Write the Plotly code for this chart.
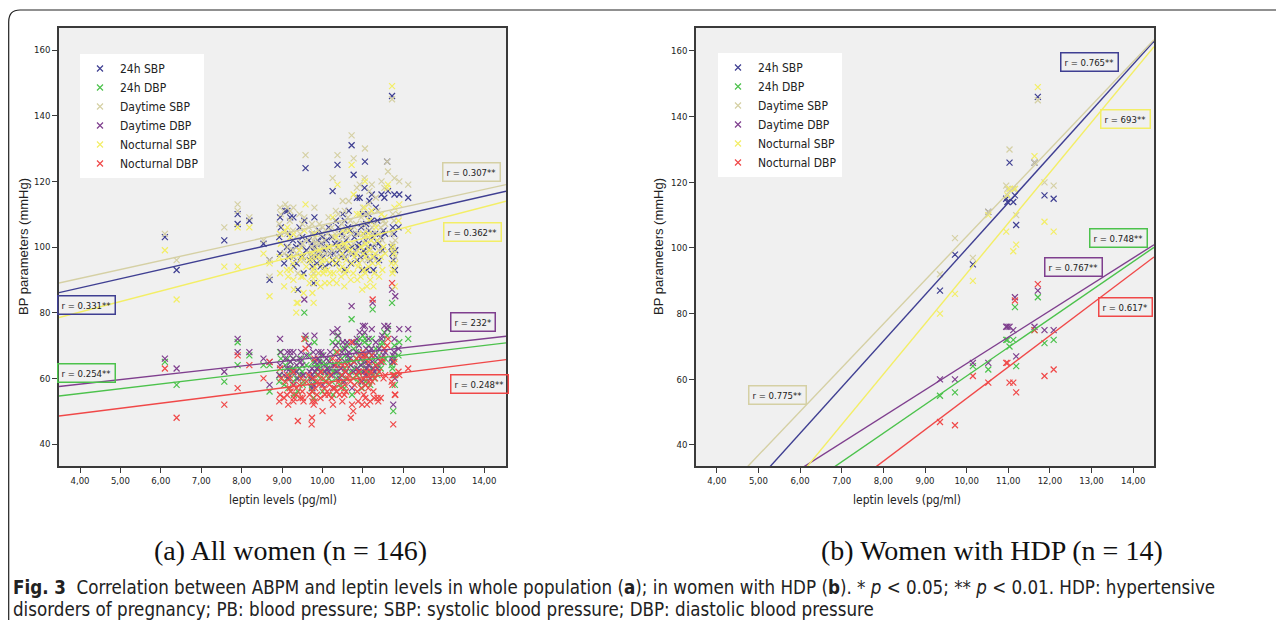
import plotly.graph_objects as go

# page body has an 8px margin: the figure is sized to fill the rest of the window
W, H = 1268, 612
OFF = 8

series_names = ["24h SBP", "24h DBP", "Daytime SBP", "Daytime DBP", "Nocturnal SBP", "Nocturnal DBP"]
series_colors = ["#3f3f92", "#4cc24c", "#d5d0a4", "#7f3f8e", "#f3ee66", "#f04848"]

# ---------- Panel (a): all women (n = 146) ----------
leptin_a = [6.10, 6.39, 7.57, 7.90, 7.90, 8.19, 8.54, 8.69, 8.69, 8.95,
            8.95, 8.93, 8.97, 9.05, 9.08, 9.13, 9.12, 9.15, 9.20, 9.21,
            9.19, 9.28, 9.28, 9.29, 9.27, 9.35, 9.36, 9.39, 9.43, 9.45,
            9.47, 9.51, 9.50, 9.53, 9.58, 9.55, 9.60, 9.66, 9.68, 9.74,
            9.73, 9.75, 9.77, 9.74, 9.80, 9.78, 9.82, 9.81, 9.88, 9.86,
            9.90, 9.92, 9.95, 9.97, 10.02, 10.00, 10.04, 10.06, 10.10, 10.12,
            10.17, 10.15, 10.19, 10.25, 10.27, 10.23, 10.26, 10.33, 10.31, 10.35,
            10.37, 10.40, 10.42, 10.39, 10.48, 10.46, 10.50, 10.49, 10.56, 10.55,
            10.58, 10.54, 10.63, 10.61, 10.65, 10.70, 10.72, 10.69, 10.73, 10.77,
            10.79, 10.76, 10.85, 10.86, 10.83, 10.88, 10.92, 10.94, 10.96, 10.90,
            11.00, 11.02, 11.01, 10.98, 11.04, 11.05, 11.07, 11.10, 11.08, 11.06,
            11.14, 11.16, 11.13, 11.18, 11.15, 11.22, 11.24, 11.26, 11.21, 11.23,
            11.30, 11.28, 11.32, 11.38, 11.36, 11.40, 11.46, 11.44, 11.48, 11.53,
            11.51, 11.55, 11.62, 11.60, 11.72, 11.74, 11.71, 11.75, 11.73, 11.78,
            11.80, 11.77, 11.79, 11.90, 11.88, 12.12]
sbp24_a = [103, 93, 102, 110, 107, 108, 101, 90, 96, 109,
           98, 103, 106, 95, 111, 111, 100, 97, 109, 99,
           104, 109, 97, 94, 102, 100, 95, 87, 106, 101,
           97, 97, 103, 92, 124, 108, 99, 102, 96, 101,
           97, 94, 99, 104, 109, 89, 97, 100, 102, 95,
           98, 105, 94, 101, 97, 103, 99, 94, 102, 100,
           95, 106, 98, 117, 98, 103, 96, 108, 101, 95,
           125, 101, 99, 106, 104, 97, 110, 100, 97, 108,
           102, 93, 106, 99, 111, 95, 131, 105, 100, 122,
           103, 98, 115, 96, 104, 100, 115, 97, 106, 101,
           110, 99, 104, 93, 118, 126, 102, 93, 107, 98,
           110, 114, 100, 96, 105, 116, 100, 93, 108, 103,
           104, 97, 112, 101, 108, 96, 116, 103, 99, 115,
           105, 104, 117, 126, 146, 106, 100, 96, 98, 116,
           99, 104, 93, 116, 106, 115]
dbp24_a = [65, 58, 59, 71, 64, 67, 64, 56, 64, 68,
           61, 59, 66, 58, 64, 66, 60, 57, 65, 62,
           61, 66, 59, 55, 63, 60, 62, 56, 63, 61,
           66, 58, 62, 59, 72, 80, 64, 67, 60, 58,
           57, 56, 65, 60, 71, 54, 62, 59, 64, 61,
           66, 63, 60, 67, 65, 56, 62, 59, 64, 61,
           63, 60, 66, 71, 62, 59, 55, 68, 62, 60,
           73, 64, 58, 71, 66, 61, 69, 59, 67, 63,
           60, 57, 65, 70, 66, 62, 78, 64, 55, 69,
           63, 60, 71, 61, 66, 59, 72, 64, 62, 68,
           73, 60, 65, 57, 71, 72, 63, 61, 67, 59,
           70, 66, 62, 58, 64, 72, 81, 61, 67, 63,
           65, 60, 69, 64, 61, 67, 70, 63, 71, 74,
           65, 66, 75, 73, 83, 65, 64, 50, 63, 70,
           61, 66, 58, 71, 67, 72]
sbpday_a = [104, 96, 106, 113, 111, 109, 102, 91, 96, 112,
            104, 107, 110, 98, 113, 112, 104, 100, 111, 103,
            108, 112, 99, 97, 105, 103, 98, 92, 110, 104,
            100, 101, 107, 96, 128, 109, 102, 106, 98, 104,
            100, 97, 102, 107, 112, 92, 101, 103, 105, 99,
            101, 107, 97, 104, 100, 106, 102, 98, 105, 104,
            98, 109, 100, 121, 103, 106, 99, 111, 104, 97,
            128, 104, 102, 110, 107, 100, 114, 103, 100, 111,
            105, 97, 109, 103, 114, 98, 134, 108, 104, 127,
            106, 101, 118, 99, 107, 104, 119, 100, 109, 104,
            112, 103, 107, 96, 121, 130, 105, 96, 110, 101,
            113, 117, 103, 99, 108, 119, 104, 97, 111, 106,
            107, 101, 115, 104, 111, 99, 120, 106, 102, 118,
            108, 107, 123, 126, 145, 110, 104, 99, 101, 121,
            102, 108, 97, 120, 110, 119]
dbpday_a = [66, 63, 62, 72, 68, 68, 66, 58, 65, 72,
            64, 61, 68, 61, 66, 68, 63, 60, 68, 65,
            63, 68, 62, 58, 66, 62, 64, 60, 66, 65,
            68, 61, 64, 61, 73, 84, 67, 70, 62, 61,
            60, 57, 68, 63, 73, 58, 65, 62, 66, 63,
            68, 65, 62, 68, 67, 58, 64, 62, 66, 63,
            65, 62, 68, 74, 64, 61, 57, 70, 64, 62,
            75, 66, 60, 73, 68, 63, 71, 61, 69, 65,
            62, 59, 67, 71, 68, 64, 82, 66, 57, 71,
            65, 62, 72, 63, 68, 62, 74, 66, 64, 70,
            76, 62, 67, 59, 74, 76, 65, 63, 69, 61,
            72, 68, 64, 60, 66, 75, 83, 63, 69, 65,
            67, 62, 71, 66, 63, 69, 72, 65, 73, 76,
            67, 68, 76, 75, 87, 67, 66, 52, 65, 72,
            85, 68, 60, 75, 69, 75]
sbpnight_a = [99, 84, 94, 106, 94, 106, 98, 85, 95, 104,
              92, 97, 101, 88, 105, 106, 93, 91, 103, 93,
              97, 104, 90, 87, 95, 80, 83, 83, 99, 96,
              91, 91, 97, 86, 113, 105, 94, 96, 89, 96,
              91, 86, 93, 98, 104, 83, 91, 94, 97, 89,
              92, 99, 88, 95, 92, 96, 93, 89, 96, 93,
              89, 100, 92, 109, 92, 96, 90, 103, 95, 89,
              119, 96, 93, 100, 98, 91, 105, 94, 92, 101,
              96, 88, 100, 93, 105, 90, 125, 99, 95, 116,
              97, 92, 110, 90, 98, 94, 110, 91, 100, 95,
              104, 93, 98, 87, 112, 120, 97, 88, 101, 92,
              104, 108, 94, 90, 99, 111, 95, 88, 102, 97,
              98, 92, 106, 95, 102, 91, 110, 97, 93, 109,
              100, 98, 119, 118, 149, 100, 95, 93, 92, 112,
              95, 98, 88, 113, 108, 105]
dbpnight_a = [63, 48, 52, 67, 57, 64, 60, 48, 65, 63,
              55, 53, 60, 54, 59, 61, 55, 52, 60, 56,
              57, 62, 53, 54, 58, 55, 57, 47, 58, 54,
              60, 54, 56, 53, 69, 72, 59, 61, 55, 48,
              46, 53, 60, 56, 66, 52, 57, 53, 59, 55,
              61, 58, 54, 62, 60, 50, 57, 55, 59, 56,
              58, 55, 61, 66, 57, 54, 52, 64, 57, 56,
              68, 59, 55, 65, 61, 57, 64, 53, 62, 58,
              56, 55, 60, 64, 61, 48, 71, 59, 52, 65,
              58, 50, 66, 56, 61, 53, 67, 59, 57, 62,
              68, 55, 60, 52, 66, 67, 58, 52, 62, 54,
              65, 61, 57, 53, 59, 67, 84, 56, 62, 59,
              60, 54, 64, 53, 54, 62, 65, 54, 66, 69,
              60, 61, 72, 70, 89, 61, 59, 46, 58, 65,
              55, 61, 55, 61, 62, 63]
fit_slope_a = [2.79, 1.465, 2.71, 1.383, 3.20, 1.555]
fit_icept_a = [76.4, 49.5, 79.6, 52.7, 67.4, 43.1]
r_labels_a = ["r = 0.331**", "r = 0.254**", "r = 0.307**", "r = 232*", "r = 0.362**", "r = 0.248**"]

# ---------- Panel (b): women with HDP (n = 14) ----------
leptin_b = [9.36, 9.72, 10.15, 10.52, 10.95, 10.98, 11.03, 11.12, 11.16, 11.19, 11.63, 11.71, 11.87, 12.09]
sbp24_b = [87, 98, 95, 111, 115, 114, 126, 114, 116, 107, 126, 146, 116, 115]
dbp24_b = [55, 56, 64, 63, 72, 72, 70, 72, 82, 64, 75, 85, 71, 72]
sbpday_b = [92, 103, 97, 111, 119, 118, 130, 118, 118, 110, 126, 145, 120, 119]
dbpday_b = [60, 60, 65, 65, 76, 76, 76, 75, 85, 67, 76, 87, 75, 75]
sbpnight_b = [80, 86, 90, 110, 105, 116, 118, 99, 118, 101, 128, 149, 108, 105]
dbpnight_b = [47, 46, 61, 59, 65, 65, 59, 59, 84, 56, 75, 89, 61, 63]
fit_slope_b = [14.05, 8.71, 13.32, 8.04, 15.35, 9.57]
fit_icept_b = [-40.75, -26.1, -29.7, -15.6, -61.26, -41.5]
r_labels_b = ["r = 0.765**", "r = 0.748**", "r = 0.775**", "r = 0.767**", "r = 693**", "r = 0.617*"]

x_tick_vals = [4, 5, 6, 7, 8, 9, 10, 11, 12, 13, 14]
x_tick_text = ["4,00", "5,00", "6,00", "7,00", "8,00", "9,00", "10,00", "11,00", "12,00", "13,00", "14,00"]
y_tick_vals = [40, 60, 80, 100, 120, 140, 160]

values_a = [sbp24_a, dbp24_a, sbpday_a, dbpday_a, sbpnight_a, dbpnight_a]
values_b = [sbp24_b, dbp24_b, sbpday_b, dbpday_b, sbpnight_b, dbpnight_b]


def px(x):
    """window pixel x -> paper fraction"""
    return (x - OFF) / W


def py(y):
    """window pixel y -> paper fraction"""
    return 1 - (y - OFF) / H


XR_A = [3.48, 14.54]
XR_B = [3.50, 14.50]
YR_A = [33.3, 166.7]
YR_B = [33.6, 167.0]

fig = go.Figure()

panels = [
    (leptin_a, values_a, fit_slope_a, fit_icept_a, XR_A, "x", "y", "legend"),
    (leptin_b, values_b, fit_slope_b, fit_icept_b, XR_B, "x2", "y2", "legend2"),
]

for lep, vals, slopes, icepts, xr, xa, ya, leg in panels:
    for i, name in enumerate(series_names):
        c = series_colors[i]
        fig.add_trace(go.Scatter(
            x=lep, y=vals[i], mode="markers", name=name,
            xaxis=xa, yaxis=ya, legend=leg,
            marker=dict(symbol="x-thin", size=6, color=c, line=dict(width=1.2, color=c)),
        ))
    for i, name in enumerate(series_names):
        c = series_colors[i]
        fig.add_trace(go.Scatter(
            x=xr, y=[icepts[i] + slopes[i] * xr[0], icepts[i] + slopes[i] * xr[1]],
            mode="lines", line=dict(color=c, width=1.4), showlegend=False,
            xaxis=xa, yaxis=ya, hoverinfo="skip",
        ))

NARROW = "DejaVu Sans Condensed, Roboto, Liberation Sans, Arial"
tick_font = dict(family=NARROW, size=9.5, color="#222")
axis_common = dict(showline=True, mirror=True, linecolor="#3a3a3a", linewidth=1.5,
                   ticks="outside", ticklen=5, tickcolor="#3a3a3a", tickwidth=1,
                   showgrid=False, zeroline=False, tickfont=tick_font)

legend_font = dict(family=NARROW, size=12, color="#222")
fig.update_layout(
    width=W, height=H,
    margin=dict(l=0, r=0, t=0, b=0),
    paper_bgcolor="white",
    plot_bgcolor="#f0f0f0",
    xaxis=dict(domain=[px(59), px(506)], range=XR_A, tickvals=x_tick_vals, ticktext=x_tick_text,
               anchor="y", **axis_common),
    yaxis=dict(domain=[py(466), py(28)], range=YR_A, tickvals=y_tick_vals, anchor="x", **axis_common),
    xaxis2=dict(domain=[px(696), px(1154)], range=XR_B, tickvals=x_tick_vals, ticktext=x_tick_text,
                anchor="y2", **axis_common),
    yaxis2=dict(domain=[py(466), py(28)], range=YR_B, tickvals=y_tick_vals, anchor="x2", **axis_common),
    legend=dict(x=px(80), y=py(54), xanchor="left", yanchor="top", bgcolor="white",
                font=legend_font, tracegroupgap=0, itemwidth=30),
    legend2=dict(x=px(718), y=py(53), xanchor="left", yanchor="top", bgcolor="white",
                 font=legend_font, tracegroupgap=0, itemwidth=30),
    showlegend=True,
)

ann = []
label_font = dict(family=NARROW, size=9.5, color="#222")
# r labels: (window pixel centre) per series index
pos_a = [(86, 305), (86, 373), (471, 172), (473, 322), (472, 232), (479, 384)]
pos_b = [(1089, 62), (1118, 238), (777, 395), (1073, 267), (1125, 119), (1125, 307)]
for labels, poss in ((r_labels_a, pos_a), (r_labels_b, pos_b)):
    for i, t in enumerate(labels):
        ann.append(dict(text=t, x=px(poss[i][0]), y=py(poss[i][1]), xref="paper", yref="paper",
                        showarrow=False, font=label_font, bordercolor=series_colors[i],
                        borderwidth=1.5, borderpad=3,
                        xanchor="center", yanchor="middle"))

title_font = dict(family="Liberation Sans, Arial", size=13, color="#222")
for cx in (24, 659):
    ann.append(dict(text="BP parameters (mmHg)", x=px(cx), y=py(247), xref="paper", yref="paper",
                    showarrow=False, textangle=-90, font=title_font, xanchor="center", yanchor="middle"))
for cx in (283, 907):
    ann.append(dict(text="leptin levels (pg/ml)", x=px(cx), y=py(500), xref="paper", yref="paper",
                    showarrow=False, font=dict(family=NARROW, size=12, color="#222"),
                    xanchor="center", yanchor="middle"))

cap_font = dict(family="Liberation Serif, Times New Roman, serif", size=28, color="#111")
ann.append(dict(text="(a) All women (n = 146)", x=px(290), y=py(550), xref="paper", yref="paper",
                showarrow=False, font=cap_font, xanchor="center", yanchor="middle"))
ann.append(dict(text="(b) Women with HDP (n = 14)", x=px(992), y=py(550), xref="paper", yref="paper",
                showarrow=False, font=cap_font, xanchor="center", yanchor="middle"))

fig_font = dict(family=NARROW, size=18.6, color="#222")
ann.append(dict(text="<b>Fig. 3</b>  Correlation between ABPM and leptin levels in whole population (<b>a</b>); in women with HDP (<b>b</b>). * <i>p</i> &lt; 0.05; ** <i>p</i> &lt; 0.01. HDP: hypertensive",
                x=px(11), y=py(587), xref="paper", yref="paper", showarrow=False, font=fig_font,
                xanchor="left", yanchor="middle"))
ann.append(dict(text="disorders of pregnancy; PB: blood pressure; SBP: systolic blood pressure; DBP: diastolic blood pressure",
                x=px(11), y=py(609), xref="paper", yref="paper", showarrow=False, font=fig_font,
                xanchor="left", yanchor="middle"))

fig.update_layout(annotations=ann)

# outer rounded frame
path = "M {:.5f},{:.5f} L {:.5f},{:.5f} Q {:.5f},{:.5f} {:.5f},{:.5f} L {:.5f},{:.5f}".format(
    px(8.7), py(640), px(8.7), py(22), px(8.7), py(10), px(20), py(10), px(1300), py(10))
fig.add_shape(type="path", path=path, xref="paper", yref="paper", line=dict(color="#222", width=1.2))

fig.write_html("out.html")
